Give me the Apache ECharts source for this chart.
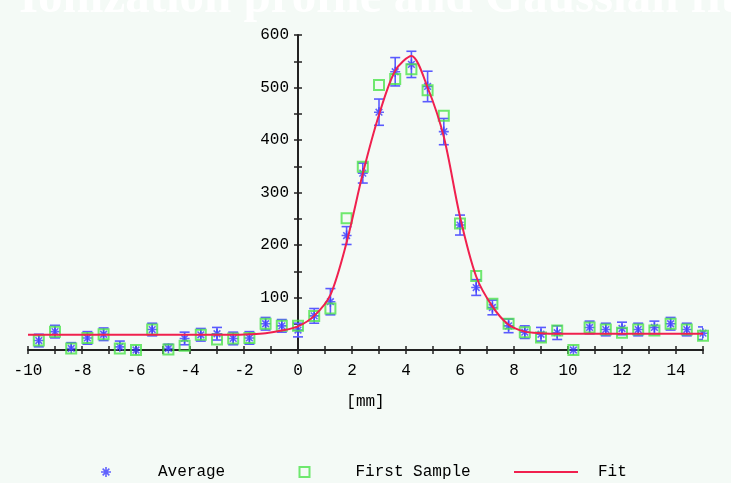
<!DOCTYPE html>
<html>
<head>
<meta charset="utf-8">
<script src="https://cdn.jsdelivr.net/npm/echarts@6/dist/echarts.min.js"></script>
<style>
    html, body { margin: 0; padding: 0; background: #f4faf6; }
    #chart { width: 731px; height: 483px; }
</style>
</head>
<body>
<div id="chart"></div>
<script>
// sample positions [mm]
let positions = [-9.6, -9.0, -8.4, -7.8, -7.2, -6.6, -6.0, -5.4, -4.8, -4.2, -3.6, -3.0, -2.4, -1.8,
    -1.2, -0.6, 0.0, 0.6, 1.2, 1.8, 2.4, 3.0, 3.6, 4.2, 4.8, 5.4, 6.0, 6.6, 7.2, 7.8, 8.4, 9.0,
    9.6, 10.2, 10.8, 11.4, 12.0, 12.6, 13.2, 13.8, 14.4, 15.0];

let average = [18, 35, 3, 23, 30, 6, 0, 39, 3, 22, 29, 31, 22, 23,
    50, 46, 38, 65, 92, 218, 337, 453, 530, 544, 502, 416, 238, 119, 81, 46, 34, 30,
    33, 0, 43, 39, 41, 39, 43, 50, 39, 32];

let averageErr = [12, 12, 11, 12, 12, 11, 0, 12, 8, 12, 12, 12, 12, 12,
    12, 12, 13, 14, 25, 17, 19, 25, 27, 25, 29, 25, 19, 15, 14, 13, 12, 13,
    13, 0, 12, 12, 12, 12, 12, 12, 12, 12];

let firstSample = [18, 35, 3, 23, 30, 3, 0, 39, 1, 8, 29, 20, 22, 23,
    50, 46, 46, 65, 79, 251, 349, 505, 516, 535, 495, 446, 241, 141, 88, 50, 34, 24,
    37, 0, 43, 39, 33, 39, 37, 50, 39, 27];

let fitX = [-10, -9.6, -9.0, -8.4, -7.8, -7.2, -6.6, -6.0, -5.4, -4.8, -4.2, -3.6, -3.0, -2.4, -1.8,
    -1.2, -0.6, 0.0, 0.6, 1.2, 1.8, 2.4, 3.0, 3.6, 4.2, 4.8, 5.4, 6.0, 6.6, 7.2, 7.8, 8.4, 9.0,
    9.6, 10.2, 10.8, 11.4, 12.0, 12.6, 13.2, 13.8, 14.4, 15.0];

let fitY = [29, 29, 29, 29, 29, 29, 29, 29, 29, 29, 29, 29, 29, 29, 30,
    32, 37, 45, 65, 105, 205, 336, 448, 532, 560, 500, 406, 254, 140, 83, 48, 35, 32,
    31, 31, 31, 31, 31, 31, 31, 31, 31, 31];

let asterisk = 'path://M4.2 0L5.8 0L5.8 10L4.2 10Z M0 4.2L10 4.2L10 5.8L0 5.8Z ' +
    'M1.1 2.2L2.2 1.1L8.9 7.8L7.8 8.9Z M7.8 1.1L8.9 2.2L2.2 8.9L1.1 7.8Z';

let font = 'Liberation Mono';
let blue = '#3c3cff';
let green = '#4ce34c';
let red = '#f0204e';
let axisColor = '#222';

let myChart = echarts.init(document.getElementById('chart'));

let option = {
    backgroundColor: '#f4faf6',
    animation: false,
    title: {
        text: 'Ionization profile and Gaussian fit',
        left: 14,
        top: -30,
        textStyle: {
            color: '#ffffff',
            fontFamily: 'Liberation Serif',
            fontWeight: 'bold',
            fontSize: 49
        }
    },
    grid: [
        // main plot area: x from -10 to 15
        {left: 28, right: 28, top: 35, bottom: 133, outerBoundsMode: 'none'},
        // thin grid placed at x = 0 to carry the visible y axis
        {left: 298, width: 20, top: 35, bottom: 133, outerBoundsMode: 'none'}
    ],
    legend: [
        {
            data: ['Average'],
            left: 96, top: 459,
            itemWidth: 10, itemHeight: 10,
            textStyle: {fontFamily: font, fontSize: 16, color: '#000', padding: [0, 0, 0, 42]}
        },
        {
            data: ['First Sample'],
            left: 292, top: 459,
            itemWidth: 10, itemHeight: 10,
            textStyle: {fontFamily: font, fontSize: 16, color: '#000', padding: [0, 0, 0, 41]}
        },
        {
            data: [{name: 'Fit', icon: 'path://M0 0H64V2H0Z'}],
            left: 509, top: 459,
            itemWidth: 64, itemHeight: 10,
            textStyle: {fontFamily: font, fontSize: 16, color: '#000', padding: [0, 0, 0, 15]}
        }
    ],
    xAxis: [
        {
            type: 'value',
            gridIndex: 0,
            min: -10,
            max: 15,
            interval: 1,
            name: '[mm]',
            nameLocation: 'middle',
            nameGap: 44,
            nameTextStyle: {fontFamily: font, fontSize: 16, color: '#000'},
            axisLine: {onZero: false, lineStyle: {color: axisColor, width: 2}},
            axisTick: {length: 4, lineStyle: {color: axisColor, width: 1.5}},
            axisLabel: {
                margin: 13,
                fontFamily: font,
                fontSize: 16,
                color: '#000',
                formatter: function (val)
                {
                    return val % 2 === 0 ? String(val) : '';
                }
            },
            splitLine: {show: false}
        },
        {
            type: 'value',
            gridIndex: 0,
            min: -10,
            max: 15,
            interval: 1,
            position: 'bottom',
            axisLine: {show: false, onZero: false},
            axisTick: {inside: true, length: 4, lineStyle: {color: axisColor, width: 1.5}},
            axisLabel: {show: false},
            splitLine: {show: false}
        },
        {
            type: 'value',
            gridIndex: 1,
            min: 0,
            max: 1,
            show: false
        }
    ],
    yAxis: [
        {
            // data axis of the main grid, not drawn
            type: 'value',
            gridIndex: 0,
            min: 0,
            max: 600,
            show: false
        },
        {
            type: 'value',
            gridIndex: 1,
            min: 0,
            max: 600,
            interval: 50,
            position: 'left',
            axisLine: {show: true, onZero: false, lineStyle: {color: axisColor, width: 2}},
            axisTick: {show: true, length: 4, lineStyle: {color: axisColor, width: 1.5}},
            axisLabel: {
                margin: 9,
                fontFamily: font,
                fontSize: 16,
                color: '#000',
                formatter: function (val)
                {
                    return (val % 100 === 0 && val !== 0) ? String(val) : '';
                }
            },
            splitLine: {show: false}
        },
        {
            type: 'value',
            gridIndex: 1,
            min: 0,
            max: 600,
            interval: 50,
            position: 'left',
            axisLine: {show: false, onZero: false},
            axisTick: {show: true, inside: true, length: 4, lineStyle: {color: axisColor, width: 1.5}},
            axisLabel: {show: false},
            splitLine: {show: false}
        }
    ],
    series: [
        {
            name: 'Average errors',
            type: 'custom',
            xAxisIndex: 0,
            yAxisIndex: 0,
            clip: true,
            silent: true,
            z: 2,
            data: positions.map(function (x, i)
            {
                return [x, average[i], averageErr[i]];
            }),
            renderItem: function (params, api)
            {
                let x = api.value(0);
                let y = api.value(1);
                let e = api.value(2);
                if (!e)
                {
                    return null;
                }
                let top = api.coord([x, y + e]);
                let bottom = api.coord([x, y - e]);
                let style = {stroke: '#5a5aff', lineWidth: 1.6};
                return {
                    type: 'group',
                    children: [
                        {type: 'line', shape: {x1: top[0], y1: top[1], x2: bottom[0], y2: bottom[1]}, style: style},
                        {type: 'line', shape: {x1: top[0] - 5, y1: top[1], x2: top[0] + 5, y2: top[1]}, style: style},
                        {type: 'line', shape: {x1: bottom[0] - 5, y1: bottom[1], x2: bottom[0] + 5, y2: bottom[1]}, style: style}
                    ]
                };
            }
        },
        {
            name: 'Average',
            type: 'scatter',
            xAxisIndex: 0,
            yAxisIndex: 0,
            symbol: asterisk,
            symbolSize: 10,
            z: 3,
            itemStyle: {color: blue},
            data: positions.map(function (x, i)
            {
                return [x, average[i]];
            })
        },
        {
            name: 'First Sample',
            type: 'scatter',
            xAxisIndex: 0,
            yAxisIndex: 0,
            symbol: 'rect',
            symbolSize: 10,
            z: 4,
            itemStyle: {color: 'none', borderColor: green, borderWidth: 2},
            data: positions.map(function (x, i)
            {
                return [x, firstSample[i]];
            })
        },
        {
            name: 'Fit',
            type: 'line',
            xAxisIndex: 0,
            yAxisIndex: 0,
            symbol: 'none',
            smooth: 0.3,
            z: 5,
            lineStyle: {color: red, width: 2},
            itemStyle: {color: red},
            data: fitX.map(function (x, i)
            {
                return [x, fitY[i]];
            })
        }
    ]
};

myChart.setOption(option);
</script>
</body>
</html>
